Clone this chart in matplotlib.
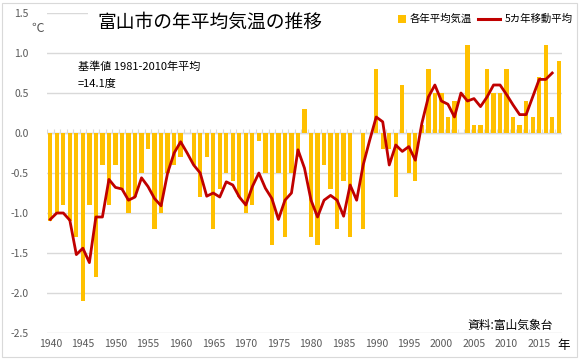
import matplotlib
matplotlib.use("Agg")
import matplotlib.pyplot as plt
from matplotlib.patches import Rectangle
from matplotlib.lines import Line2D
import numpy as np

plt.rcParams["font.family"] = ["Noto Sans CJK JP", "DejaVu Sans"]

W, H = 581, 362

years = list(range(1940, 2019))
anomaly = [
    -1.1, -1.0, -0.9, -1.1, -1.3, -2.1, -0.9, -1.8, -0.4, -0.9,   # 1940-49
    -0.4, -0.7, -1.0, -0.8, -0.5, -0.2, -1.2, -1.0, -0.5, -0.4,   # 1950-59
    -0.3, 0.0, -0.4, -0.8, -0.3, -1.2, -0.7, -0.5, -0.6, -0.8,    # 1960-69
    -1.0, -0.9, -0.1, -0.5, -1.4, -0.5, -1.3, -0.5, -0.3, 0.3,    # 1970-79
    -1.3, -1.4, -0.4, -0.7, -1.2, -0.6, -1.3, 0.0, -1.2, 0.0,     # 1980-89
    0.8, -0.2, -0.2, -0.8, 0.6, -0.5, -0.6, 0.1, 0.8, 0.5,        # 1990-99
    0.5, 0.2, 0.4, 0.0, 1.1, 0.1, 0.1, 0.8, 0.5, 0.5,             # 2000-09
    0.8, 0.2, 0.1, 0.4, 0.2, 0.7, 1.1, 0.2, 0.9,                  # 2010-18
]
ma_years = list(range(1940, 2018))
moving_avg = [
    -1.08, -1.00, -1.00, -1.09, -1.52, -1.44, -1.62, -1.05, -1.05, -0.58,
    -0.68, -0.70, -0.84, -0.80, -0.56, -0.67, -0.82, -0.91, -0.50, -0.25,
    -0.11, -0.25, -0.40, -0.50, -0.79, -0.75, -0.80, -0.61, -0.65, -0.80,
    -0.90, -0.67, -0.50, -0.69, -0.82, -1.08, -0.84, -0.75, -0.21, -0.44,
    -0.84, -1.05, -0.84, -0.78, -0.84, -1.04, -0.65, -0.84, -0.40, -0.09,
    0.20, 0.14, -0.40, -0.15, -0.23, -0.17, -0.34, 0.12, 0.45, 0.60,
    0.40, 0.36, 0.20, 0.50, 0.40, 0.43, 0.33, 0.45, 0.60, 0.60,
    0.48, 0.35, 0.23, 0.23, 0.45, 0.67, 0.67, 0.75,
]
y_ticks = [-2.5, -2.0, -1.5, -1.0, -0.5, 0.0, 0.5, 1.0, 1.5]
x_labels = years[::5]

BAR = "#FFC000"
LINE = "#C00000"
GRID = "#D9D9D9"
TXT = "#595959"


def fx(px):
    return px / W


def fy(py):
    return 1 - py / H


fig = plt.figure(figsize=(W / 100, H / 100), dpi=100)
fig.patch.set_facecolor("white")
fig.patches.append(Rectangle((fx(2), fy(357)), 575 / W, 354 / H,
                             transform=fig.transFigure, fill=False,
                             edgecolor=GRID, lw=0.8, zorder=1))
# white band behind title and legend (hides the top gridline there)
fig.patches.append(Rectangle((fx(88), fy(31)), 476 / W, 24 / H,
                             transform=fig.transFigure, facecolor="white",
                             edgecolor="none", zorder=1))

ax = fig.add_axes([fx(47), fy(333), 515 / W, 320 / H])
ax.set_xlim(years[0] - 0.5, years[-1] + 0.5)
ax.set_ylim(-2.5, 1.5)
for s in ax.spines.values():
    s.set_visible(False)
ax.set_yticks(y_ticks)
ax.set_yticklabels([f"{v:.1f}" for v in y_ticks], fontsize=7.5, color=TXT)
ax.tick_params(axis="y", length=0, pad=13)
ax.set_xticks(x_labels)
ax.set_xticklabels([str(y) for y in x_labels], fontsize=7.5, color=TXT)
ax.tick_params(axis="x", length=0, pad=4)
ax.grid(axis="y", color=GRID, lw=1)
ax.set_axisbelow(True)

ax.bar(years, anomaly, width=0.66, color=BAR, zorder=2)
ax.axhline(0, color=GRID, lw=1, zorder=1)
ax.vlines(np.array(years + [years[-1] + 1]) - 0.5, 0, 0.05, color=GRID, lw=0.8, zorder=1)
ax.plot(ma_years, moving_avg, color=LINE, lw=2.0, zorder=3, solid_joinstyle="round")

fig.text(fx(97), fy(22), "富山市の年平均気温の推移", fontsize=13.5, va="center",
         ha="left", color="black", zorder=4)
fig.text(fx(38), fy(28), "℃", fontsize=9, va="center", ha="center", color=TXT)
fig.text(fx(78), fy(67), "基準値 1981-2010年平均", fontsize=8, va="center", ha="left")
fig.text(fx(78), fy(83), "=14.1度", fontsize=8, va="center", ha="left")
fig.text(fx(553), fy(325), "資料:富山気象台", fontsize=8.5, va="center", ha="right")
fig.text(fx(557), fy(345), "年", fontsize=9, va="center", ha="left")

# legend drawn by hand to match the original spacing
fig.patches.append(Rectangle((fx(398), fy(23)), 8 / W, 8 / H,
                             transform=fig.transFigure, facecolor=BAR,
                             edgecolor="none", zorder=4))
fig.text(fx(410), fy(19), "各年平均気温", fontsize=7.5, va="center", ha="left", zorder=4)
fig.lines.append(Line2D([fx(478), fx(500)], [fy(19), fy(19)], transform=fig.transFigure,
                        color=LINE, lw=2.2, zorder=4))
fig.text(fx(505), fy(19), "5カ年移動平均", fontsize=7.5, va="center", ha="left", zorder=4)

fig.savefig("out.png", dpi=100)
